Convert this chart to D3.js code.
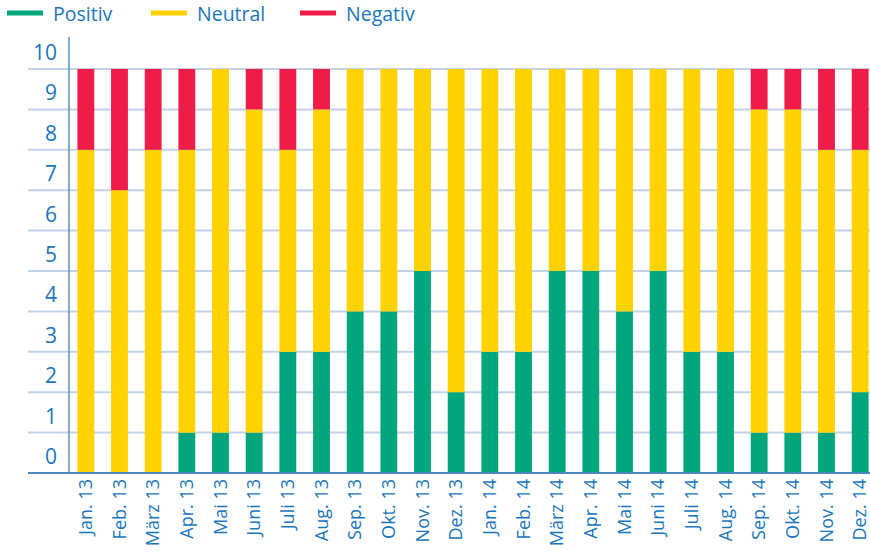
<!DOCTYPE html>
<html>
<head>
<meta charset="utf-8">
<script src="https://cdn.jsdelivr.net/npm/d3@7"></script>
<style>
  body { margin: 0; background: #fff; }
  text { font-family: "Open Sans", "Noto Sans", sans-serif; fill: #1a76bd; }
</style>
</head>
<body>
<div id="chart"></div>
<script>
// Months shown along the x axis.
var months = ["Jan. 13", "Feb. 13", "März 13", "Apr. 13", "Mai 13", "Juni 13",
    "Juli 13", "Aug. 13", "Sep. 13", "Okt. 13", "Nov. 13", "Dez. 13",
    "Jan. 14", "Feb. 14", "März 14", "Apr. 14", "Mai 14", "Juni 14",
    "Juli 14", "Aug. 14", "Sep. 14", "Okt. 14", "Nov. 14", "Dez. 14"];

// Counts per month, stacked bottom to top.
var positiv = [0, 0, 0, 1, 1, 1, 3, 3, 4, 4, 5, 2, 3, 3, 5, 5, 4, 5, 3, 3, 1, 1, 1, 2];
var neutral = [8, 7, 8, 7, 9, 8, 5, 6, 6, 6, 5, 8, 7, 7, 5, 5, 6, 5, 7, 7, 8, 8, 7, 6];
var negativ = [2, 3, 2, 2, 0, 1, 2, 1, 0, 0, 0, 0, 0, 0, 0, 0, 0, 0, 0, 0, 1, 1, 2, 2];

var seriesNames = ["Positiv", "Neutral", "Negativ"];
var yTicks = [0, 1, 2, 3, 4, 5, 6, 7, 8, 9, 10];

var colors = {Positiv: "#00a67c", Neutral: "#ffd200", Negativ: "#ef1b48"};

var width = 870, height = 554;
var margin = {top: 69, right: -7, bottom: 81, left: 69};

var rows = months.map(function(m, i) {
    return {month: m, Positiv: positiv[i], Neutral: neutral[i], Negativ: negativ[i]};
});
var stacked = d3.stack().keys(seriesNames)(rows);

var svg = d3.select("#chart").append("svg")
    .attr("width", width)
    .attr("height", height);

var x = d3.scaleBand()
    .domain(months)
    .range([margin.left, width - margin.right])
    .paddingInner(0.5)
    .paddingOuter(0.25);

var y = d3.scaleLinear()
    .domain([0, 10])
    .range([height - margin.bottom, margin.top]);

// Gridlines reach out past the axis to the left.
svg.append("g").selectAll("line").data(yTicks.slice(1))
  .enter().append("line")
    .attr("x1", 28).attr("x2", width)
    .attr("y1", function(d) { return y(d); })
    .attr("y2", function(d) { return y(d); })
    .attr("stroke", "#c2d3e8")
    .attr("stroke-width", 2);

// Tick labels sit in the band above their gridline.
svg.append("g").selectAll("text").data(yTicks)
  .enter().append("text")
    .attr("x", 57)
    .attr("y", function(d) { return y(d) - 9; })
    .attr("text-anchor", "end")
    .style("font-size", "21px")
    .text(function(d) { return d; });

// Bars
svg.append("g").selectAll("g").data(stacked)
  .enter().append("g")
    .attr("fill", function(s) { return colors[s.key]; })
  .selectAll("rect").data(function(s) { return s; })
  .enter().append("rect")
    .attr("x", function(d) { return x(d.data.month); })
    .attr("width", x.bandwidth())
    .attr("y", function(d) { return y(d[1]); })
    .attr("height", function(d) { return y(d[0]) - y(d[1]); });

// Axis lines
svg.append("line")
    .attr("x1", margin.left).attr("x2", margin.left)
    .attr("y1", 37).attr("y2", y(0))
    .attr("stroke", "#5a8fc4").attr("stroke-width", 1.5);
svg.append("line")
    .attr("x1", 28).attr("x2", width)
    .attr("y1", y(0)).attr("y2", y(0))
    .attr("stroke", "#4a86c0").attr("stroke-width", 2);

// Month labels, rotated
svg.append("g").selectAll("text").data(months)
  .enter().append("text")
    .attr("transform", function(d) {
        return "translate(" + (x(d) + x.bandwidth() / 2 + 6) + "," + 479 + ") rotate(-90)";
    })
    .attr("text-anchor", "end")
    .style("font-size", "18px")
    .text(function(d) { return d; });

// Legend
var legend = svg.append("g").selectAll("g").data(seriesNames)
  .enter().append("g")
    .attr("transform", function(d, i) { return "translate(" + [7, 151, 300][i] + ",0)"; });
legend.append("line")
    .attr("x1", 0).attr("x2", 36)
    .attr("y1", 13).attr("y2", 13)
    .attr("stroke", function(d) { return colors[d]; })
    .attr("stroke-width", 5);
legend.append("text")
    .attr("x", 46)
    .attr("y", 21)
    .style("font-size", "19.5px")
    .text(function(d) { return d; });
</script>
</body>
</html>
